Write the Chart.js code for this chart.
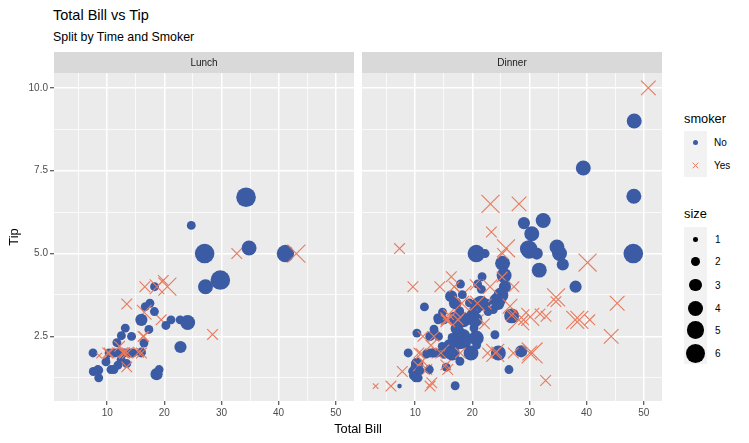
<!DOCTYPE html>
<html>
<head>
<meta charset="utf-8">
<script src="https://cdn.jsdelivr.net/npm/chart.js@4.4.1/dist/chart.umd.min.js"></script>
<style>
  body { margin: 0; background: #fff; font-family: "Liberation Sans", Arial, Helvetica, sans-serif; }
  #wrap { position: relative; width: 749px; height: 443px; overflow: hidden; background: #fff; }
  .t { position: absolute; white-space: nowrap; color: #000; }
  canvas { position: absolute; top: 0; }
  .key { position: absolute; background: #F2F2F2; }
  .lab { position: absolute; font-size: 10px; line-height: 13px; color: #000; white-space: nowrap; }
  .dot { position: absolute; border-radius: 50%; }
</style>
</head>
<body>
<div id="wrap">
  <div class="t" style="left:53px;top:6px;font-size:14.5px;line-height:18px">Total Bill vs Tip</div>
  <div class="t" style="left:53px;top:30px;font-size:12.4px;line-height:15px">Split by Time and Smoker</div>
  <canvas id="lunchChart" width="357" height="443" style="left:0"></canvas>
  <canvas id="dinnerChart" width="310" height="443" style="left:357px"></canvas>
  <div class="t" style="left:54px;width:608px;top:421px;text-align:center;font-size:12.8px;line-height:15px">Total Bill</div>
  <div class="t" style="left:-6px;top:229px;width:40px;height:16px;text-align:center;font-size:12.8px;line-height:16px;transform:rotate(-90deg)">Tip</div>
  <div class="t" style="left:684px;top:111px;font-size:12.8px;line-height:15px">smoker</div>
  <div class="t" style="left:684px;top:206px;font-size:12.8px;line-height:15px">size</div>
</div>
<script>
const N = 'No', Y = 'Yes';

// Lunch
const lunchBill = [27.20, 22.76, 17.29, 19.44, 16.66, 10.07, 32.68, 15.98, 34.83, 13.03, 18.28, 24.71, 21.16,
  10.65, 12.43, 24.08, 11.69, 13.42, 14.26, 15.95, 12.48, 29.80, 8.52, 14.52, 11.38, 22.82, 19.08, 20.27, 11.17,
  12.26, 18.26, 8.51, 10.33, 14.15, 16.00, 13.16, 17.47, 34.30, 41.19, 27.05, 16.43, 8.35, 18.64, 11.87, 9.78, 7.51,
  19.81, 28.44, 15.48, 16.58, 7.56, 10.34, 43.11, 13.00, 13.51, 18.71, 12.74, 13.00, 16.40, 20.53, 16.47,
  12.16, 13.42, 8.58, 15.98, 13.42, 16.27, 10.09];
const lunchTip = [4.00, 3.00, 2.71, 3.00, 3.40, 1.83, 5.00, 2.03, 5.17, 2.00, 4.00, 5.85, 3.00,
  1.50, 1.80, 2.92, 2.31, 1.68, 2.50, 2.00, 2.52, 4.20, 1.48, 2.00, 2.00, 2.18, 1.50, 2.83, 1.50,
  2.00, 3.25, 1.25, 2.00, 2.00, 2.00, 2.75, 3.50, 6.70, 5.00, 5.00, 2.30, 1.50, 1.36, 1.63, 1.73, 2.00,
  4.19, 2.56, 2.02, 4.00, 1.44, 2.00, 5.00, 2.00, 2.00, 4.00, 2.01, 2.00, 2.50, 4.00, 3.23,
  2.20, 3.48, 1.92, 3.00, 1.58, 2.50, 2.00];
const lunchSmoker = [N, N, N, Y, N, N, Y, N, N, N, N, N, N,
  N, N, N, N, N, N, N, N, N, N, N, N, N, N, N, N,
  N, N, N, N, N, Y, N, N, N, N, N, N, N, N, N, N, N,
  Y, Y, Y, Y, N, Y, Y, Y, Y, Y, Y, Y, Y, Y, Y,
  Y, Y, Y, N, Y, Y, Y];
const lunchSize = [4, 2, 2, 2, 2, 1, 2, 2, 4, 2, 2, 2, 2,
  2, 2, 4, 2, 2, 2, 2, 2, 6, 2, 2, 2, 3, 2, 2, 2,
  2, 2, 2, 2, 2, 2, 2, 2, 6, 5, 6, 2, 2, 3, 2, 2, 2,
  2, 2, 2, 2, 2, 2, 4, 2, 2, 3, 2, 2, 2, 4, 3,
  2, 2, 1, 3, 2, 2, 2];

// Dinner
const dinnerBill = [16.99, 10.34, 21.01, 23.68, 24.59, 25.29, 8.77, 26.88, 15.04, 14.78,
  10.27, 35.26, 15.42, 18.43, 14.83, 21.58, 10.33, 16.29, 16.97, 20.65,
  17.92, 20.29, 15.77, 39.42, 19.82, 17.81, 13.37, 12.69, 21.70, 19.65,
  9.55, 18.35, 15.06, 20.69, 17.78, 24.06, 16.31, 16.93, 18.69, 31.27,
  16.04, 17.46, 13.94, 9.68, 30.40, 18.29, 22.23, 32.40, 28.55, 18.04,
  12.54, 10.29, 34.81, 9.94, 25.56, 19.49, 38.01, 26.41, 11.24, 48.27,
  20.29, 13.81, 11.02, 18.29, 17.59, 20.08, 16.45, 3.07, 20.23, 15.01,
  12.02, 17.07, 26.86, 25.28, 14.73, 10.51, 17.92,
  28.97, 22.49, 5.75, 16.32, 22.75, 40.17, 27.28, 12.03, 21.01, 12.46,
  11.35, 15.38, 44.30, 22.42, 20.92, 15.36, 20.49, 25.21, 18.24, 14.31,
  14.00, 7.25, 38.07, 23.95, 25.71, 17.31, 29.93,
  14.07, 13.13, 17.26, 24.55, 19.77, 29.85, 48.17, 25.00, 13.39, 16.49,
  21.50, 12.66, 16.21, 13.81, 17.51, 24.52, 20.76, 31.71, 10.59, 10.63,
  50.81, 15.81, 7.25, 31.85, 16.82, 32.90, 17.89, 14.48, 9.60, 34.63,
  34.65, 23.33, 45.35, 23.17, 40.55, 20.69, 20.90, 30.46, 18.15, 23.10,
  15.69,
  26.59, 38.73, 24.27, 12.76, 30.06, 25.89, 48.33, 13.27, 28.17, 12.90,
  28.15, 11.59, 7.74, 30.14,
  20.45, 13.28, 22.12, 24.01, 15.69, 11.61, 10.77, 15.53, 10.07, 12.60,
  32.83, 35.83, 29.03, 27.18, 22.67, 17.82, 18.78];
const dinnerTip = [1.01, 1.66, 3.50, 3.31, 3.61, 4.71, 2.00, 3.12, 1.96, 3.23,
  1.71, 5.00, 1.57, 3.00, 3.02, 3.92, 1.67, 3.71, 3.50, 3.35,
  4.08, 2.75, 2.23, 7.58, 3.18, 2.34, 2.00, 2.00, 4.30, 3.00,
  1.45, 2.50, 3.00, 2.45, 3.27, 3.60, 2.00, 3.07, 2.31, 5.00,
  2.24, 2.54, 3.06, 1.32, 5.60, 3.00, 5.00, 6.00, 2.05, 3.00,
  2.50, 2.60, 5.20, 1.56, 4.34, 3.51, 3.00, 1.50, 1.76, 6.73,
  3.21, 2.00, 1.98, 3.76, 2.64, 3.15, 2.47, 1.00, 2.01, 2.09,
  1.97, 3.00, 3.14, 5.00, 2.20, 1.25, 3.08,
  3.00, 3.50, 1.00, 4.30, 3.25, 4.73, 4.00, 1.50, 3.00, 1.50,
  2.50, 3.00, 2.50, 3.48, 4.08, 1.64, 4.06, 4.29, 3.76, 4.00,
  3.00, 1.00, 4.00, 2.55, 4.00, 3.50, 5.07,
  2.50, 2.00, 2.74, 2.00, 2.00, 5.14, 5.00, 3.75, 2.61, 2.00,
  3.50, 2.50, 2.00, 2.00, 3.00, 3.48, 2.24, 4.50, 1.61, 2.00,
  10.00, 3.16, 5.15, 3.18, 4.00, 3.11, 2.00, 2.00, 4.00, 3.55,
  3.68, 5.65, 3.50, 6.50, 3.00, 5.00, 3.50, 2.00, 3.50, 4.00,
  1.50,
  3.41, 3.00, 2.03, 2.23, 2.00, 5.16, 9.00, 2.50, 6.50, 1.10,
  3.00, 1.50, 1.44, 3.09,
  3.00, 2.72, 2.88, 2.00, 3.00, 3.39, 1.47, 3.00, 1.25, 1.00,
  1.17, 4.67, 5.92, 2.00, 2.00, 1.75, 3.00];
const dinnerSmoker = [N, N, N, N, N, N, N, N, N, N,
  N, N, N, N, N, N, N, N, N, N,
  N, N, N, N, N, N, N, N, N, N,
  N, N, N, N, N, N, N, N, N, N,
  N, N, N, N, N, N, N, N, N, N,
  N, N, N, N, N, N, Y, N, Y, N,
  Y, Y, Y, Y, N, N, N, Y, N, Y,
  N, N, Y, Y, N, N, Y,
  Y, N, Y, Y, N, Y, Y, Y, Y, N,
  Y, Y, Y, Y, N, Y, Y, Y, N, Y,
  N, N, N, N, N, N, N,
  N, N, N, N, N, N, N, N, N, N,
  N, N, N, N, Y, N, N, N, Y, Y,
  Y, Y, Y, Y, Y, Y, Y, Y, Y, Y,
  Y, Y, Y, Y, Y, N, Y, Y, Y, Y,
  Y,
  Y, Y, Y, Y, Y, Y, N, Y, Y, Y,
  Y, Y, Y, Y,
  N, N, Y, Y, Y, N, N, Y, N, Y,
  Y, N, N, Y, Y, N, N];
const dinnerSize = [2, 3, 3, 2, 4, 4, 2, 4, 2, 2,
  2, 4, 2, 4, 2, 2, 3, 3, 3, 3,
  2, 2, 2, 4, 2, 4, 2, 2, 2, 2,
  2, 4, 2, 4, 2, 3, 3, 3, 3, 3,
  3, 2, 2, 2, 4, 2, 2, 4, 3, 2,
  2, 2, 4, 2, 4, 2, 4, 2, 2, 4,
  2, 2, 2, 4, 3, 3, 2, 1, 2, 2,
  2, 3, 2, 2, 2, 2, 2,
  2, 2, 2, 2, 2, 4, 2, 2, 2, 2,
  2, 2, 3, 2, 2, 2, 2, 2, 2, 2,
  2, 1, 3, 2, 3, 2, 4,
  2, 2, 3, 4, 4, 5, 6, 4, 2, 4,
  4, 2, 3, 2, 2, 3, 2, 4, 2, 2,
  3, 2, 2, 2, 2, 2, 2, 2, 2, 2,
  4, 2, 3, 4, 2, 5, 3, 5, 3, 3,
  2,
  3, 4, 2, 2, 3, 4, 4, 2, 3, 2,
  5, 2, 2, 4,
  4, 2, 2, 4, 3, 2, 2, 2, 2, 2,
  2, 3, 3, 2, 2, 2, 2];

const xMajor = [10, 20, 30, 40, 50];
const xMinor = [5, 15, 25, 35, 45];
const yMajor = [2.5, 5, 7.5, 10];
const yMinor = [1.25, 3.75, 6.25, 8.75];
const smokerLevels = ['No', 'Yes'];
const sizeLevels = [1, 2, 3, 4, 5, 6];

const BLUE = '#3B5BA5';
const ORANGE = '#E87A5D';
const FONT = '"Liberation Sans", Arial, Helvetica, sans-serif';
Chart.defaults.font.family = FONT;

// area scale like ggplot: sqrt(size) rescaled to 1..6 mm
function ptRadius(s) {
  const g = 1 + 5 * (Math.sqrt(s) - 1) / (Math.sqrt(6) - 1);
  return g * 1.5 + 0.8;
}
const CROSS = 1.7; // crossRot radius relative to circle radius

function expand(arr) {
  const lo = Math.min(...arr), hi = Math.max(...arr), pad = (hi - lo) * 0.05;
  return [lo - pad, hi + pad];
}
const xRange = expand(lunchBill.concat(dinnerBill));
const yRange = expand(lunchTip.concat(dinnerTip));

const isYes = c => c.raw && c.raw.k === 'Yes';
const isMajor = (c, list) => c.tick && list.includes(c.tick.value);

const panelPlugin = {
  id: 'panel',
  beforeDraw(chart, args, opts) {
    const { ctx, chartArea: a } = chart;
    ctx.save();
    ctx.fillStyle = '#EBEBEB';
    ctx.fillRect(a.left, a.top, a.right - a.left, a.bottom - a.top);
    ctx.fillStyle = '#D9D9D9';
    ctx.fillRect(a.left, a.top - 21, a.right - a.left, 21);
    ctx.fillStyle = '#1A1A1A';
    ctx.font = '10px ' + FONT;
    ctx.textAlign = 'center';
    ctx.textBaseline = 'middle';
    ctx.fillText(opts.label, (a.left + a.right) / 2, a.top - 10);
    ctx.restore();
  }
};

function makePanel(id, label, bill, tip, smoker, size, showY, pad) {
  const pts = bill.map((b, i) => ({ x: b, y: tip[i], s: size[i], k: smoker[i] }));
  return new Chart(document.getElementById(id), {
    type: 'scatter',
    data: {
      datasets: [{
        data: pts,
        clip: 0,
        pointStyle: c => isYes(c) ? 'crossRot' : 'circle',
        pointRadius: c => c.raw ? ptRadius(c.raw.s) * (isYes(c) ? CROSS : 1) : 3,
        pointBackgroundColor: c => isYes(c) ? 'rgba(0,0,0,0)' : BLUE,
        pointBorderColor: ORANGE,
        pointBorderWidth: c => isYes(c) ? 1.1 : 0
      }]
    },
    options: {
      responsive: false,
      animation: false,
      events: [],
      devicePixelRatio: 1,
      layout: { padding: pad, autoPadding: false },
      plugins: { legend: { display: false }, tooltip: { enabled: false }, panel: { label: label } },
      scales: {
        x: {
          type: 'linear',
          min: xRange[0],
          max: xRange[1],
          afterBuildTicks: ax => { ax.ticks = xMinor.concat(xMajor).sort((a, b) => a - b).map(v => ({ value: v })); },
          afterFit: ax => { ax.height = 42; ax.paddingLeft = 0; ax.paddingRight = 0; },
          border: { display: false },
          grid: {
            color: '#FFFFFF',
            lineWidth: c => isMajor(c, xMajor) ? 1.5 : 0.75,
            tickLength: 4,
            tickWidth: 1,
            tickColor: c => isMajor(c, xMajor) ? '#333333' : 'rgba(0,0,0,0)'
          },
          ticks: {
            autoSkip: false, maxRotation: 0, padding: 2, color: '#4D4D4D', font: { size: 10 },
            callback: v => xMajor.includes(v) ? String(v) : ''
          }
        },
        y: {
          type: 'linear',
          min: yRange[0],
          max: yRange[1],
          afterBuildTicks: ax => { ax.ticks = yMinor.concat(yMajor).sort((a, b) => a - b).map(v => ({ value: v })); },
          afterFit: ax => { ax.width = showY ? 54 : 0; ax.paddingTop = 0; ax.paddingBottom = 0; },
          border: { display: false },
          grid: {
            color: '#FFFFFF',
            lineWidth: c => isMajor(c, yMajor) ? 1.5 : 0.75,
            drawTicks: showY,
            tickLength: 4,
            tickWidth: 1,
            tickColor: c => isMajor(c, yMajor) ? '#333333' : 'rgba(0,0,0,0)'
          },
          ticks: {
            display: showY, padding: 2, color: '#4D4D4D', font: { size: 10 },
            callback: v => yMajor.includes(v) ? v.toFixed(1) : ''
          }
        }
      }
    },
    plugins: [panelPlugin]
  });
}

makePanel('lunchChart', 'Lunch', lunchBill, lunchTip, lunchSmoker, lunchSize, true,
  { left: 0, top: 73, right: 3, bottom: 0 });
makePanel('dinnerChart', 'Dinner', dinnerBill, dinnerTip, dinnerSmoker, dinnerSize, false,
  { left: 5, top: 73, right: 5, bottom: 0 });

// legends
const wrap = document.getElementById('wrap');
function add(cls, css, text) {
  const d = document.createElement('div');
  d.className = cls;
  d.style.cssText = css;
  if (text !== undefined) d.textContent = text;
  wrap.appendChild(d);
  return d;
}

add('key', 'left:684px;top:131px;width:23px;height:46px');
smokerLevels.forEach((lv, i) => {
  const cy = 142.5 + i * 23;
  if (lv === 'No') {
    add('dot', `left:${695.5 - 2.5}px;top:${cy - 2.5}px;width:5px;height:5px;background:${BLUE}`);
  } else {
    const s = document.createElementNS('http://www.w3.org/2000/svg', 'svg');
    s.setAttribute('width', 11); s.setAttribute('height', 11);
    s.style.cssText = `position:absolute;left:690px;top:${cy - 5.5}px`;
    s.innerHTML = `<path d="M2.7 2.7L8.3 8.3M8.3 2.7L2.7 8.3" stroke="${ORANGE}" stroke-width="1"/>`;
    wrap.appendChild(s);
  }
  add('lab', `left:714px;top:${cy - 6.5}px`, lv);
});

const sizeY = [239.3, 261.7, 285, 308.3, 330, 353.3];
add('key', 'left:684px;top:227px;width:23px;height:137px');
sizeLevels.forEach((lv, i) => {
  const r = ptRadius(lv);
  add('dot', `left:${695.5 - r}px;top:${sizeY[i] - r}px;width:${2 * r}px;height:${2 * r}px;background:#000`);
  add('lab', `left:715px;top:${sizeY[i] - 6.5}px`, String(lv));
});
</script>
</body>
</html>
